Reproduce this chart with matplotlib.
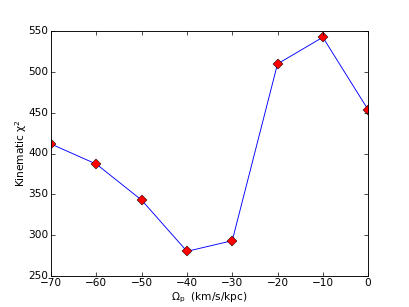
import matplotlib
matplotlib.use('Agg')

import matplotlib.pyplot as plt

# Pattern speed vs kinematic chi^2
omega_p = [-70, -60, -50, -40, -30, -20, -10, 0]
chi2 = [411.5, 387, 343, 280.5, 293.5, 509.5, 542, 453.5]

x_ticks = [-70, -60, -50, -40, -30, -20, -10, 0]
y_ticks = [250, 300, 350, 400, 450, 500, 550]

plt.style.use('classic')
plt.rcParams['font.size'] = 7.6
plt.rcParams['mathtext.fontset'] = 'dejavusans'
plt.rcParams['mathtext.default'] = 'regular'
plt.rcParams['xtick.major.size'] = 2.8
plt.rcParams['ytick.major.size'] = 2.8
plt.rcParams['xtick.minor.size'] = 1.4
plt.rcParams['ytick.minor.size'] = 1.4
plt.rcParams['axes.linewidth'] = 0.65
plt.rcParams['xtick.major.pad'] = 1.5
plt.rcParams['ytick.major.pad'] = 2.0
plt.rcParams['axes.labelpad'] = 1.5

fig = plt.figure(figsize=(4.09, 3.07), dpi=100)
ax = fig.add_subplot(111)
ax.plot(omega_p, chi2, 'b-', lw=0.65, marker='D', ms=5.2,
        mfc='red', mec='black', mew=0.35)

ax.set_xlim(-70, 0)
ax.set_ylim(250, 550)
ax.set_xticks(x_ticks)
ax.set_yticks(y_ticks)
ax.set_xlabel(r'$\Omega_p$  (km/s/kpc)')
ax.set_ylabel(r'Kinematic $\chi^2$', labelpad=-1)

fig.savefig('out.png', dpi=100)
